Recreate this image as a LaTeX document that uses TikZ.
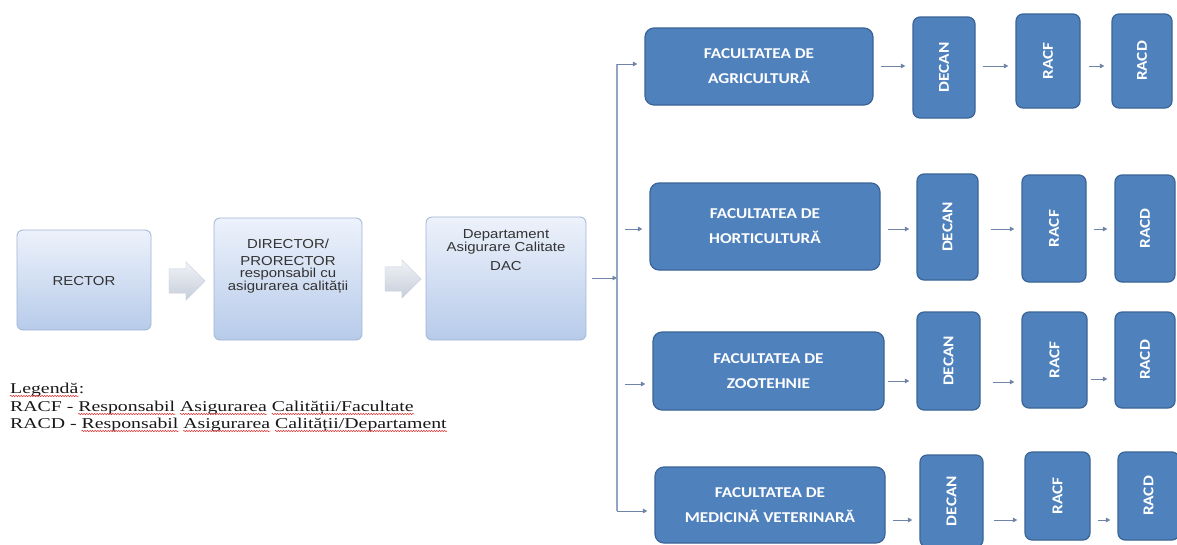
\documentclass[tikz,border=0pt]{standalone}
\usepackage{fontspec}
\setmainfont{Liberation Serif}
\newfontfamily\arialf[FakeStretch=1.15]{Liberation Sans}
\newfontfamily\calibrif[FakeStretch=1.15]{Carlito}
\newfontfamily\legendf[FakeStretch=1.32]{Liberation Serif}
\usetikzlibrary{arrows.meta,shapes.arrows,calc,decorations.pathmorphing}
\definecolor{facblue}{HTML}{4F81BD}
\definecolor{facborder}{HTML}{3A6496}
\definecolor{lighttop}{HTML}{EDF2FB}
\definecolor{lightbot}{HTML}{B7CBEA}
\definecolor{lightborder}{HTML}{9FB4D6}
\definecolor{connc}{HTML}{6F84A6}
\definecolor{vline}{HTML}{93A5C4}
\definecolor{squig}{HTML}{E03030}
\definecolor{arrtop}{HTML}{F0F2F6}
\definecolor{arrbot}{HTML}{C6CEDB}
\tikzset{
  x=1pt, y=-1pt,
  lightbox/.style={rectangle, rounded corners=6, top color=lighttop, bottom color=lightbot,
    draw=lightborder, line width=0.8pt, inner sep=0pt},
  lighttext/.style={font=\arialf\fontsize{13}{12}\selectfont, text=black!80, align=center, inner sep=0pt},
  facbox/.style={rectangle, rounded corners=9, fill=facblue, draw=facborder, line width=1.2pt,
    text=white, font=\calibrif\bfseries\fontsize{15}{25}\selectfont, align=center, inner sep=0pt},
  smallbox/.style={rectangle, rounded corners=7, fill=facblue, draw=facborder, line width=1.2pt,
    text=white, font=\calibrif\bfseries\fontsize{15}{15}\selectfont, inner sep=0pt},
  blockarrow/.style={single arrow, single arrow head extend=7pt, minimum height=36pt,
    inner xsep=0pt, inner ysep=12pt, top color=arrtop, bottom color=arrbot, draw=arrbot, line width=0.3pt},
  conn/.style={draw=connc, line width=0.9pt, -{Triangle[length=4.5pt,width=4.5pt]}},
  trunk/.style={draw=vline, line width=1.1pt},
  legend/.style={font=\legendf\fontsize{15}{17}\selectfont, text=black!90, inner sep=0pt, anchor=base west},
  squigline/.style={draw=squig, line width=0.5pt, decorate, decoration={snake, amplitude=0.7pt, segment length=2.6pt}}
}
\newcommand\squnder[1]{\draw[squigline] ([yshift=-3pt]#1.base west) -- ([yshift=-3pt]#1.base east);}
\begin{document}
\begin{tikzpicture}
\useasboundingbox (0,0) rectangle (1177,544);
\fill[white] (0,0) rectangle (1177,544);

% left chain
\node[lightbox, minimum width=134, minimum height=100] (rector) at (84,280) {};
\node[lighttext] (rectort) at (84,281) {RECTOR};
\node[lightbox, minimum width=148, minimum height=122] (dir) at (288,279) {};
\node[lighttext] (dirt) at (288,266) {DIRECTOR/\\[5pt]PRORECTOR\\responsabil cu\\asigurarea calității};
\node[lightbox, minimum width=160, minimum height=123] (dac) at (506,278.5) {};
\node[lighttext] (dact) at (506,250) {Departament\\Asigurare Calitate\\[7pt]DAC};

\node[blockarrow] (ba1) at (181,281) {};
\node[blockarrow] (ba2) at (397,279) {};

% legend
\node[legend] (l0a) at (10,393) {Legendă};
\node[legend] (l0b) at (l0a.base east) {:};
\node[legend] (l1a) at (10,411) {RACF -};
\node[legend] (l1b) at ([xshift=4.5pt]l1a.base east) {Responsabil};
\node[legend] (l1c) at ([xshift=4.5pt]l1b.base east) {Asigurarea};
\node[legend] (l1d) at ([xshift=4.5pt]l1c.base east) {Calității/Facultate};
\node[legend] (l2a) at (10,428) {RACD -};
\node[legend] (l2b) at ([xshift=4.5pt]l2a.base east) {Responsabil};
\node[legend] (l2c) at ([xshift=4.5pt]l2b.base east) {Asigurarea};
\node[legend] (l2d) at ([xshift=4.5pt]l2c.base east) {Calității/Departament};
\squnder{l0a}
\squnder{l1b}\squnder{l1c}\squnder{l1d}
\squnder{l2b}\squnder{l2c}\squnder{l2d}

% faculties
\node[facbox, minimum width=228, minimum height=77] (agr) at (759,66.5) {FACULTATEA DE\\AGRICULTURĂ};
\node[facbox, minimum width=230, minimum height=87] (hor) at (765,226.5) {FACULTATEA DE\\HORTICULTURĂ};
\node[facbox, minimum width=231, minimum height=78] (zoo) at (768.5,371) {FACULTATEA DE\\ZOOTEHNIE};
\node[facbox, minimum width=230, minimum height=76] (vet) at (770,505) {FACULTATEA DE\\MEDICINĂ VETERINARĂ};

% row 1
\node[smallbox, minimum width=62, minimum height=101] (dec1) at (944,67.5) {\rotatebox{90}{DECAN}};
\node[smallbox, minimum width=64, minimum height=94] (racf1) at (1048,61) {\rotatebox{90}{RACF}};
\node[smallbox, minimum width=60, minimum height=94] (racd1) at (1142,61) {\rotatebox{90}{RACD}};
% row 2
\node[smallbox, minimum width=61, minimum height=106] (dec2) at (947.5,227) {\rotatebox{90}{DECAN}};
\node[smallbox, minimum width=64, minimum height=107] (racf2) at (1054,228.5) {\rotatebox{90}{RACF}};
\node[smallbox, minimum width=60, minimum height=107] (racd2) at (1145,228.5) {\rotatebox{90}{RACD}};
% row 3
\node[smallbox, minimum width=63, minimum height=98] (dec3) at (948.5,361) {\rotatebox{90}{DECAN}};
\node[smallbox, minimum width=65, minimum height=96] (racf3) at (1054.5,360) {\rotatebox{90}{RACF}};
\node[smallbox, minimum width=60, minimum height=96] (racd3) at (1145,360) {\rotatebox{90}{RACD}};
% row 4
\node[smallbox, minimum width=63, minimum height=92] (dec4) at (951.5,501) {\rotatebox{90}{DECAN}};
\node[smallbox, minimum width=65, minimum height=88] (racf4) at (1057.5,496) {\rotatebox{90}{RACF}};
\node[smallbox, minimum width=61, minimum height=88] (racd4) at (1148.5,496) {\rotatebox{90}{RACD}};

% trunk
\coordinate (j) at (617,278);
\coordinate (b1) at (617,64);
\coordinate (b2) at (617,229);
\coordinate (b3) at (617,384);
\coordinate (b4) at (617,511);
\draw[trunk] (b1) -- (b4);
\draw[conn, shorten <=6pt] (dac.east |- j) -- (j);
\draw[conn, shorten >=7pt] (b1) -- (b1 -| agr.west);
\draw[conn, shorten <=8pt, shorten >=7pt] (b2) -- (b2 -| hor.west);
\draw[conn, shorten <=8pt, shorten >=7pt] (b3) -- (b3 -| zoo.west);
\draw[conn, shorten >=7pt] (b4) -- (b4 -| vet.west);

% row arrows
\draw[conn, shorten <=7pt, shorten >=7pt] (agr.east |- 0,66) -- (dec1.west |- 0,66);
\draw[conn, shorten <=7pt, shorten >=7pt] (dec1.east |- 0,66) -- (racf1.west |- 0,66);
\draw[conn, shorten <=8pt, shorten >=7pt] (racf1.east |- 0,66) -- (racd1.west |- 0,66);

\draw[conn, shorten <=7pt, shorten >=7pt] (hor.east |- 0,229) -- (dec2.west |- 0,229);
\draw[conn, shorten <=12pt, shorten >=7pt] (dec2.east |- 0,229) -- (racf2.west |- 0,229);
\draw[conn, shorten <=7pt, shorten >=7pt] (racf2.east |- 0,229) -- (racd2.west |- 0,229);

\draw[conn, shorten <=3pt, shorten >=7pt] (zoo.east |- 0,381) -- (dec3.west |- 0,381);
\draw[conn, shorten <=12pt, shorten >=7pt] (dec3.east |- 0,382) -- (racf3.west |- 0,382);
\draw[conn, shorten <=3pt, shorten >=7pt] (racf3.east |- 0,379) -- (racd3.west |- 0,379);

\draw[conn, shorten <=7pt, shorten >=7pt] (vet.east |- 0,520) -- (dec4.west |- 0,520);
\draw[conn, shorten <=10pt, shorten >=7pt] (dec4.east |- 0,520) -- (racf4.west |- 0,520);
\draw[conn, shorten <=7pt, shorten >=7pt] (racf4.east |- 0,520) -- (racd4.west |- 0,520);
\end{tikzpicture}
\end{document}
